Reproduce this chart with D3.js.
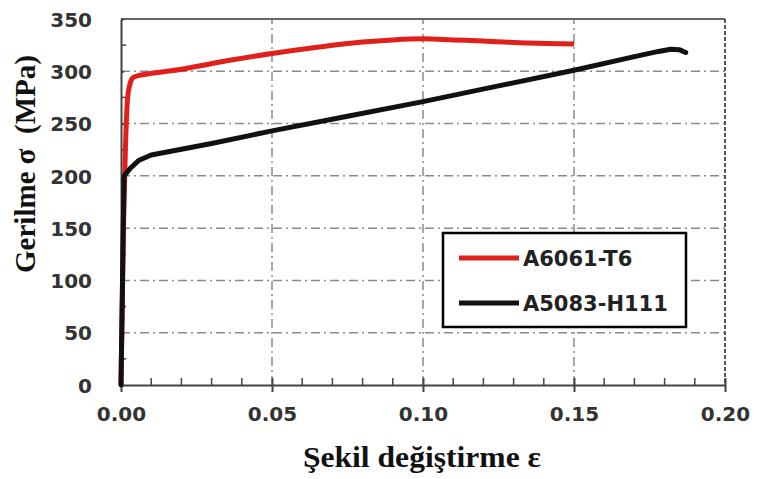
<!DOCTYPE html>
<html>
<head>
<meta charset="utf-8">
<script src="https://cdn.jsdelivr.net/npm/d3@7"></script>
<style>
  body { margin: 0; background: #fff; }
  svg { display: block; }
</style>
</head>
<body>
<script>
// strain / stress readings (MPa)
var redStrain = [0, 0.0008, 0.0015, 0.0022, 0.003, 0.004, 0.006, 0.01, 0.02, 0.035, 0.05, 0.065, 0.08, 0.09, 0.1, 0.11, 0.12, 0.135, 0.15];
var redStress = [0, 150, 230, 275, 288, 294, 296, 298, 302, 310, 317, 323, 328, 330, 331, 330, 329, 327, 326];
var blackStrain = [0, 0.0005, 0.001, 0.003, 0.006, 0.01, 0.03, 0.05, 0.075, 0.1, 0.125, 0.15, 0.17, 0.178, 0.182, 0.185, 0.187];
var blackStress = [0, 100, 200, 207, 215, 220, 231, 243, 257, 271, 286, 301, 314, 319, 321, 320.5, 318];
var xTicks = [0, 0.05, 0.10, 0.15, 0.20];
var yTicks = [0, 50, 100, 150, 200, 250, 300, 350];
var seriesNames = ["A6061-T6", "A5083-H111"];
var seriesColors = ["#e0201b", "#111111"];

var width = 757, height = 479;
var margin = {left: 121, right: 32, top: 19, bottom: 94};

var svg = d3.select("body").append("svg")
	.attr("width", width)
	.attr("height", height);

var x = d3.scaleLinear().domain([0, 0.2]).range([margin.left, width - margin.right]);
var y = d3.scaleLinear().domain([0, 350]).range([height - margin.bottom, margin.top]);

var gridDash = "9,4,2,4";

// grid
svg.append("g").selectAll("line")
	.data(xTicks.slice(1, 4))
	.enter().append("line")
	.attr("x1", function(d) { return x(d); })
	.attr("x2", function(d) { return x(d); })
	.attr("y1", y(0)).attr("y2", y(350))
	.attr("stroke", "#8a8a8a").attr("stroke-width", 1.5)
	.attr("stroke-dasharray", gridDash);

svg.append("g").selectAll("line")
	.data(yTicks.slice(1, 7))
	.enter().append("line")
	.attr("x1", x(0)).attr("x2", x(0.2))
	.attr("y1", function(d) { return y(d); })
	.attr("y2", function(d) { return y(d); })
	.attr("stroke", "#8a8a8a").attr("stroke-width", 1.5)
	.attr("stroke-dasharray", gridDash);

// frame: top solid, right dashed
svg.append("line")
	.attr("x1", x(0)).attr("x2", x(0.2)).attr("y1", y(350)).attr("y2", y(350))
	.attr("stroke", "#666").attr("stroke-width", 2);
svg.append("line")
	.attr("x1", x(0.2)).attr("x2", x(0.2)).attr("y1", y(350)).attr("y2", y(0))
	.attr("stroke", "#555").attr("stroke-width", 2).attr("stroke-dasharray", "4,2");

// axes
var xAxis = d3.axisBottom(x).tickValues(xTicks).tickFormat(d3.format(".2f")).tickSizeInner(-7).tickSizeOuter(0).tickPadding(22);
var gx = svg.append("g").attr("transform", "translate(0," + y(0) + ")").call(xAxis);
gx.selectAll(".tick line").attr("y1", 7);

var yAxis = d3.axisLeft(y).tickValues(yTicks).tickSizeInner(8).tickSizeOuter(0).tickPadding(21);
var gy = svg.append("g").attr("transform", "translate(" + x(0) + ",0)").call(yAxis);
gy.selectAll(".tick line").attr("x2", 3);

[gx, gy].forEach(function(g) {
	g.select(".domain").attr("stroke", "#444").attr("stroke-width", 2);
	g.selectAll(".tick line").attr("stroke", "#444").attr("stroke-width", 2);
	g.selectAll("text")
		.attr("font-family", "DejaVu Sans")
		.attr("font-weight", "bold")
		.attr("font-size", 20)
		.attr("fill", "#333");
});
gy.selectAll("text").attr("dy", "0.36em");

// minor ticks
var xMinor = d3.range(0, 0.2001, 0.01).filter(function(d) { return Math.round(d * 100) % 5 !== 0; });
svg.append("g").selectAll("line")
	.data(xMinor).enter().append("line")
	.attr("x1", function(d) { return x(d); }).attr("x2", function(d) { return x(d); })
	.attr("y1", y(0)).attr("y2", y(0) - 7)
	.attr("stroke", "#444").attr("stroke-width", 1.5);
var yMinor = d3.range(25, 350, 50);
svg.append("g").selectAll("line")
	.data(yMinor).enter().append("line")
	.attr("x1", x(0)).attr("x2", x(0) + 5)
	.attr("y1", function(d) { return y(d); }).attr("y2", function(d) { return y(d); })
	.attr("stroke", "#444").attr("stroke-width", 1.5);

// curves
var line = d3.line()
	.x(function(d) { return x(d[0]); })
	.y(function(d) { return y(d[1]); });

var redPts = d3.zip(redStrain, redStress);
var blackPts = d3.zip(blackStrain, blackStress);

svg.append("path").datum(redPts)
	.attr("d", line.curve(d3.curveMonotoneX)).attr("fill", "none")
	.attr("stroke", seriesColors[0]).attr("stroke-width", 5)
	.attr("stroke-linejoin", "round");
svg.append("path").datum(blackPts)
	.attr("d", line.curve(d3.curveLinear)).attr("fill", "none")
	.attr("stroke", seriesColors[1]).attr("stroke-width", 5)
	.attr("stroke-linejoin", "round").attr("stroke-linecap", "round");

// legend
var lg = svg.append("g").attr("transform", "translate(443,233)");
lg.append("rect")
	.attr("width", 243).attr("height", 94)
	.attr("fill", "#fff").attr("stroke", "#000").attr("stroke-width", 2.5);
seriesNames.forEach(function(name, i) {
	var ly = 25 + i * 45;
	lg.append("line")
		.attr("x1", 16).attr("x2", 76).attr("y1", ly).attr("y2", ly)
		.attr("stroke", seriesColors[i]).attr("stroke-width", 5);
	lg.append("text")
		.attr("x", 80).attr("y", ly + 8)
		.attr("font-family", "DejaVu Sans").attr("font-weight", "bold")
		.attr("font-size", 21).attr("fill", "#222")
		.text(name);
});

// axis titles
svg.append("text")
	.attr("transform", "translate(422,467) scale(1.09,1)")
	.attr("text-anchor", "middle")
	.attr("font-family", "Liberation Serif").attr("font-weight", "bold")
	.attr("font-size", 29).attr("fill", "#111")
	.text("Şekil değiştirme ε");

svg.append("text")
	.attr("transform", "translate(35,164) rotate(-90)")
	.attr("text-anchor", "middle")
	.attr("font-family", "Liberation Serif").attr("font-weight", "bold")
	.attr("font-size", 29).attr("fill", "#111")
	.attr("xml:space", "preserve")
	.text("Gerilme σ  (MPa)");
</script>
</body>
</html>
